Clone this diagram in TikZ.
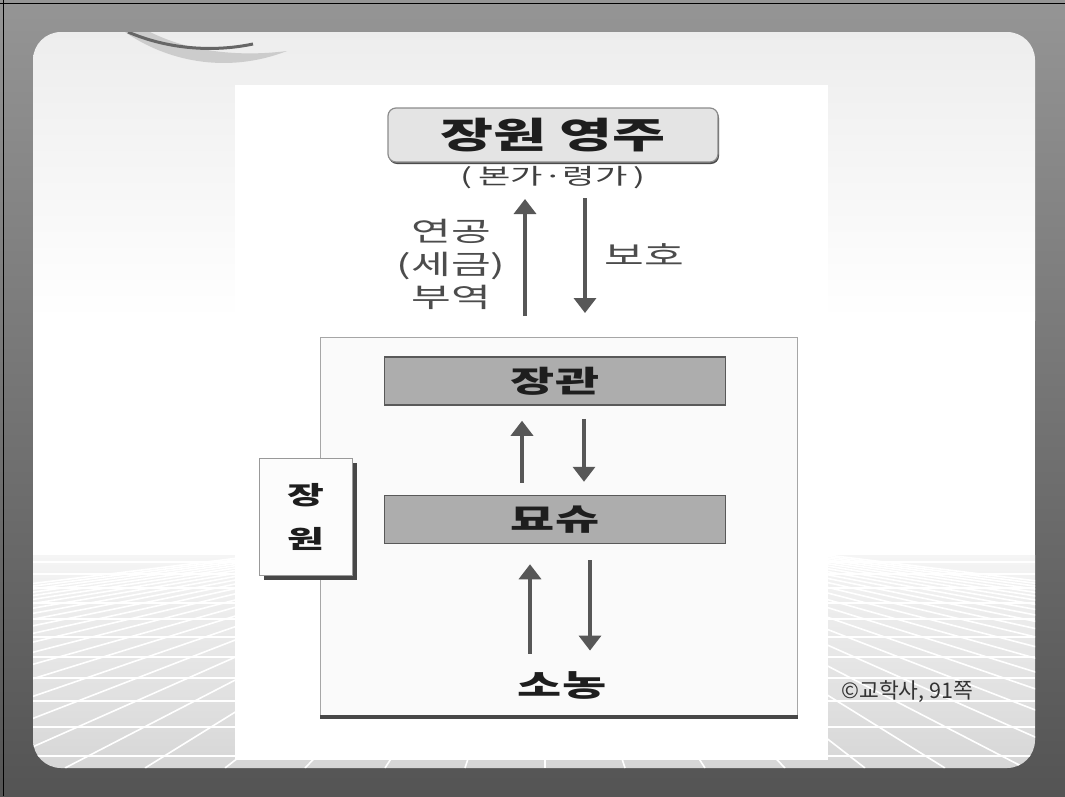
\documentclass[tikz,border=0pt]{standalone}
\usepackage{fontspec}
\newfontfamily\krwide[FakeStretch=1.6]{Noto Sans CJK KR}
\newfontfamily\krplain{Noto Sans CJK KR}
\usepackage{xcolor}
\usetikzlibrary{arrows.meta,positioning,shadows}
\definecolor{frametop}{HTML}{959595}
\definecolor{framebot}{HTML}{545454}
\definecolor{ink}{HTML}{1E1E1E}
\definecolor{arrowgray}{HTML}{575757}
\definecolor{boxgray}{HTML}{ADADAD}
\definecolor{lordfill}{HTML}{E4E4E4}

\begin{document}
\begin{tikzpicture}[x=1pt,y=-1pt,
		title/.style={font=\krwide\bfseries\fontsize{36}{40}\selectfont, text=ink},
		rank/.style={draw=black!65, line width=1.5pt, fill=boxgray, minimum width=341pt, minimum height=48pt, inner sep=0pt, font=\krwide\bfseries\fontsize{30}{32}\selectfont, text=ink},
		note/.style={font=\krwide\fontsize{27}{33}\selectfont, text=black!70, align=center},
		flow/.style={draw=arrowgray, line width=3.5pt, -{Triangle[width=22pt,length=15pt]}}]
	\useasboundingbox (0,0) rectangle (1065,796);
	% slide frame
	\shade[top color=frametop, bottom color=framebot] (0,0) rectangle (1065,796);
	\draw[black, line width=1.5pt] (0,3.5) -- (1065,3.5) (3.5,0) -- (3.5,796);
	\begin{scope}
		\clip[rounded corners=28pt] (33,32) rectangle (1035,768);
		\shade[top color=black!7, bottom color=white] (33,32) rectangle (1035,320);
		\fill[white] (33,319) rectangle (1035,556);
		\shade[top color=black!4, bottom color=black!16] (33,555) rectangle (1035,768);
		\foreach \h in {562,574,588,603,619,637,657,678,701,727,756}
			\draw[white, line width=1.6pt] (33,\h) -- (1035,\h);
		\foreach \t in {-25,...,25}
			\draw[white, line width=1.6pt] (545+\t*11.3,555) -- (545+\t*80,768);
		% swoosh
		\fill[black!20] (125,32) .. controls (165,60) and (225,75) .. (287,51) .. controls (240,57) and (190,52) .. (150,32) -- cycle;
		\draw[black!60, line width=3pt] (128,32) .. controls (165,48) and (210,53) .. (253,44);
	\end{scope}
	% scanned page
	\fill[white] (235,85) rectangle (828,760);

	\node[title, draw=black!45, line width=1.2pt, fill=lordfill, rounded corners=8pt, minimum width=330pt, minimum height=54pt,
		drop shadow={shadow xshift=1pt, shadow yshift=-2pt, fill=black!70, opacity=1}] (lord) at (553,135) {장원 영주};
	\node (house) [below=0pt of lord, font=\krwide\fontsize{22}{24}\selectfont, text=black!75] {(\;본가·령가\;)};
	\node[note] (dues) at (451,264) {연공\\(세금)\\부역};
	\node[note] (guard) at (644,255) {보호};
	\coordinate (dues-from) at (525,316);
	\coordinate (dues-to) at (525,199);
	\coordinate (guard-from) at (585,198);
	\coordinate (guard-to) at (585,313);
	\draw[flow] (dues-from) -- (dues-to);
	\draw[flow] (guard-from) -- (guard-to);

	% the manor
	\node[draw=black!35, line width=1pt, fill=black!2, minimum width=477pt, minimum height=378pt, inner sep=0pt, anchor=north west] (manor) at (320,337) {};
	\draw[black!72, line width=4pt] ([yshift=-1pt]manor.south west) -- ([yshift=-1pt]manor.south east);
	\node[draw=black!40, line width=1pt, fill=black!1, minimum width=93pt, minimum height=117pt, inner sep=0pt, anchor=north west,
		drop shadow={shadow xshift=4pt, shadow yshift=-4pt, fill=black!72, opacity=1},
		font=\krwide\bfseries\fontsize{25}{44}\selectfont, text=ink, align=center] (estate) at (259,458) {장\\원};

	\node[rank] (steward) at (555,381) {장관};
	\node[rank] (reeve) [below=89pt of steward] {묘슈};
	\node[font=\krwide\bfseries\fontsize{30}{32}\selectfont, text=ink] (peasant) at (562,685) {소농};

	\draw[flow] ([xshift=-33pt,yshift=12pt]reeve.north) -- ([xshift=-33pt,yshift=-15pt]steward.south);
	\draw[flow] ([xshift=29pt,yshift=-13pt]steward.south) -- ([xshift=29pt,yshift=13pt]reeve.north);
	\draw[flow] ([xshift=-32pt,yshift=14pt]peasant.north) -- ([xshift=-25pt,yshift=-20pt]reeve.south);
	\draw[flow] ([xshift=35pt,yshift=-16pt]reeve.south) -- ([xshift=28pt,yshift=17pt]peasant.north);

	\node[font=\krplain\fontsize{21.5}{24}\selectfont, text=black!80, anchor=west] (credit) at (838,692) {©교학사, 91쪽};
\end{tikzpicture}
\end{document}
